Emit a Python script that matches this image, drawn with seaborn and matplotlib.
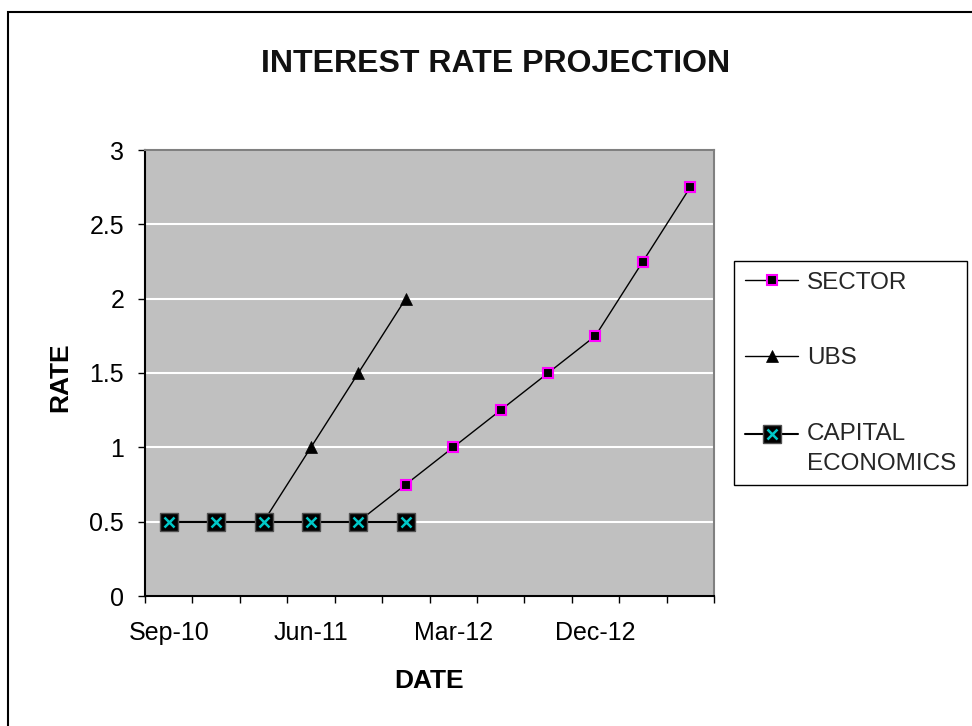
import numpy as np
import pandas as pd
import matplotlib
matplotlib.use("Agg")
import matplotlib.pyplot as plt
import seaborn as sns
from matplotlib.legend_handler import HandlerLine2D, HandlerTuple
from matplotlib.patches import Rectangle
from matplotlib.ticker import FixedLocator, FixedFormatter


# --------------------------------------------------
# Data (quarterly projections)
# --------------------------------------------------

quarters = [
    "Sep-10", "Dec-10", "Mar-11", "Jun-11", "Sep-11", "Dec-11",
    "Mar-12", "Jun-12", "Sep-12", "Dec-12", "Mar-13", "Jun-13"
]

sector = [0.5, 0.5, 0.5, 0.5, 0.5, 0.75, 1.0, 1.25, 1.5, 1.75, 2.25, 2.75]

ubs = [0.5, 0.5, 0.5, 1.0, 1.5, 2.0,
       np.nan, np.nan, np.nan, np.nan, np.nan, np.nan]

capital_economics = [0.5, 0.5, 0.5, 0.5, 0.5, 0.5,
                     np.nan, np.nan, np.nan, np.nan, np.nan, np.nan]

rate_ticks = [0, 0.5, 1, 1.5, 2, 2.5, 3]
rate_labels = ["0", "0.5", "1", "1.5", "2", "2.5", "3"]

df = pd.DataFrame({
    "pos": range(len(quarters)),
    "quarter": quarters,
    "SECTOR": sector,
    "UBS": ubs,
    "CAPITAL ECONOMICS": capital_economics,
})


# --------------------------------------------------
# Legend handler that lifts the marker to the first text line
# --------------------------------------------------

class RaisedLine(HandlerLine2D):

    def __init__(self, shift=0, **kw):
        super().__init__(**kw)
        self.shift = shift

    def create_artists(self, legend, orig_handle, xdescent, ydescent,
                       width, height, fontsize, trans):
        return super().create_artists(legend, orig_handle, xdescent,
                                      ydescent - 2 * self.shift,
                                      width, height, fontsize, trans)


# --------------------------------------------------
# Figure
# --------------------------------------------------

sns.set_theme(style="ticks")
plt.rcParams["font.family"] = ["Liberation Sans", "DejaVu Sans"]

W, H = 972, 726
fig = plt.figure(figsize=(W / 100, H / 100), dpi=100)
fig.patch.set_facecolor("white")

ax = fig.add_axes([145 / W, 1 - 596 / H, (714 - 145) / W, (596 - 150) / H])
ax.set_facecolor("#C0C0C0")

sns.lineplot(data=df, x="pos", y="SECTOR", ax=ax, color="black", lw=1,
             marker="s", markersize=7, markerfacecolor="black",
             markeredgecolor="#FF00FF", markeredgewidth=1.5, zorder=3)

sns.lineplot(data=df, x="pos", y="UBS", ax=ax, color="black", lw=1,
             marker="^", markersize=9, markerfacecolor="black",
             markeredgecolor="black", markeredgewidth=0.5, zorder=4)

sns.lineplot(data=df, x="pos", y="CAPITAL ECONOMICS", ax=ax, color="black",
             lw=1.5, marker="s", markersize=12.5, markerfacecolor="black",
             markeredgecolor="#505050", markeredgewidth=1, zorder=5)

sns.lineplot(data=df, x="pos", y="CAPITAL ECONOMICS", ax=ax, color="black",
             linestyle="none", marker="x", markersize=7,
             markeredgecolor="#00C8C8", markeredgewidth=1.8, zorder=6)

# axes ranges and ticks
ax.set_xlim(-0.5, len(quarters) - 0.5)
ax.set_ylim(0, 3)

ax.xaxis.set_major_locator(FixedLocator(np.arange(-0.5, len(quarters), 1)))
ax.xaxis.set_major_formatter(FixedFormatter([]))
ax.xaxis.set_minor_locator(FixedLocator(df["pos"][::3].tolist()))
ax.xaxis.set_minor_formatter(FixedFormatter(quarters[::3]))
ax.tick_params(axis="x", which="major", direction="out", length=5,
               width=1, color="black")
ax.tick_params(axis="x", which="minor", length=0, pad=18,
               labelsize=18, labelcolor="black")

ax.set_yticks(rate_ticks)
ax.set_yticklabels(rate_labels)
ax.tick_params(axis="y", direction="out", length=5, width=1,
               color="black", pad=10, labelsize=18, labelcolor="black")

ax.yaxis.grid(True, color="white", lw=1.5)
ax.xaxis.grid(False)
ax.set_axisbelow(True)

for side in ["left", "bottom"]:
    ax.spines[side].set_color("black")
    ax.spines[side].set_linewidth(1.5)
for side in ["top", "right"]:
    ax.spines[side].set_visible(True)
    ax.spines[side].set_color("#808080")
    ax.spines[side].set_linewidth(1.5)

# labels
ax.set_xlabel("DATE", fontsize=19, fontweight="bold", color="black")
ax.xaxis.set_label_coords(0.5, (596 - 681) / 446)
ax.xaxis.label.set_va("center")

ax.set_ylabel("RATE", fontsize=19, fontweight="bold", color="black")
ax.yaxis.set_label_coords((60 - 145) / 569, (596 - 377) / 446)
ax.yaxis.label.set_va("center")

fig.text(496 / W, 1 - 64 / H, "INTEREST RATE PROJECTION",
         ha="center", va="center", fontsize=23, fontweight="bold",
         color="#111111")

# legend
lines = ax.get_lines()
handles = [lines[0], lines[1], (lines[2], lines[3])]
labels = ["SECTOR", "UBS", "CAPITAL\nECONOMICS"]
raise_pt = 15 * 72 / fig.dpi

leg = fig.legend(
    handles, labels,
    loc="upper left",
    bbox_to_anchor=(734 / W, 1 - 261 / H),
    borderaxespad=0,
    frameon=True,
    fancybox=False,
    edgecolor="black",
    framealpha=1,
    fontsize=17.5,
    handlelength=2.2,
    handletextpad=0.35,
    labelspacing=2.2,
    borderpad=0.45,
    handler_map={
        lines[2]: RaisedLine(raise_pt),
        lines[3]: RaisedLine(raise_pt),
        tuple: HandlerTuple(ndivide=1, pad=0),
    },
)
leg.get_frame().set_linewidth(1)
leg.get_texts()[2].set_linespacing(1.45)

# outer chart border (runs off the right and bottom edges)
fig.add_artist(Rectangle((8 / W, -0.5), 2, 0.5 + 1 - 12 / H,
                         transform=fig.transFigure, fill=False,
                         edgecolor="black", lw=1.5))

fig.savefig("out.png", dpi=100)
plt.close(fig)
